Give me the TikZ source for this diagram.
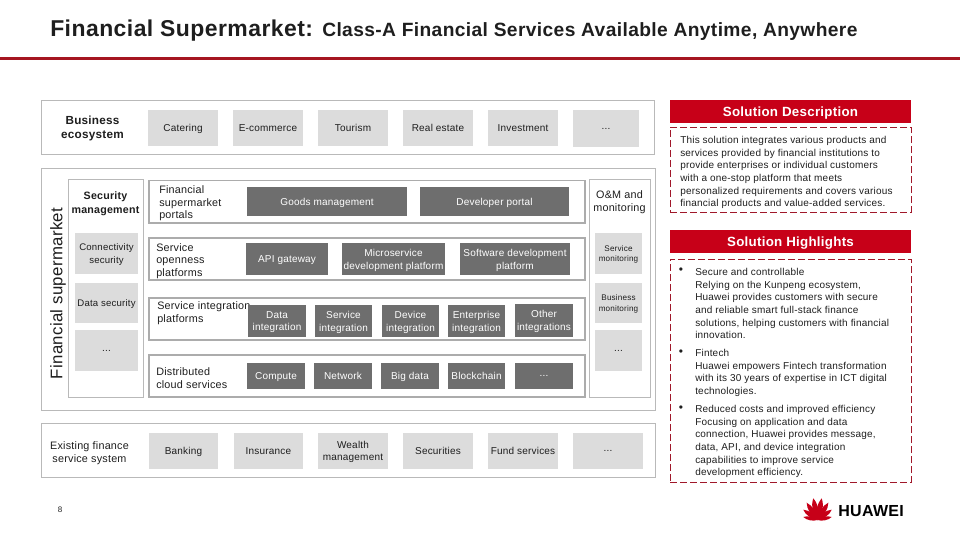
\documentclass[tikz,border=0pt]{standalone}
\usepackage{fontspec}
\setmainfont{Liberation Sans}[LetterSpace=2]
\definecolor{hwred}{RGB}{199, 0, 24}
\definecolor{ruled}{RGB}{165, 22, 32}
\definecolor{dashred}{RGB}{160, 24, 42}
\definecolor{framegray}{RGB}{185, 185, 185}
\definecolor{thickgray}{RGB}{172, 172, 172}
\definecolor{lightcell}{RGB}{220, 220, 220}
\definecolor{darkcell}{RGB}{110, 110, 110}
\definecolor{inktext}{RGB}{30, 30, 30}
\usetikzlibrary{positioning}

\begin{document}
\begin{tikzpicture}[
  x=0.75pt, y=-0.75pt,
  every node/.style={text=inktext, inner sep=0pt},
  boxsize/.style 2 args={minimum width=#1*0.75pt, minimum height=#2*0.75pt},
  frame/.style={draw=framegray, line width=0.7pt, fill=white},
  platform/.style={draw=thickgray, line width=1.4pt, fill=white},
  greycell/.style={fill=lightcell, align=center, text depth=0pt, font=\fontsize{7.5}{9.4}\selectfont},
  darkbox/.style={fill=darkcell, text=white, align=center, text depth=0pt, font=\fontsize{7.5}{9.6}\selectfont},
  rowlabel/.style={anchor=west, align=left, font=\fontsize{8.1}{9.4}\selectfont},
  headbar/.style={fill=hwred, text=white, text depth=0pt, font=\fontsize{10}{12}\bfseries\selectfont},
  dashbox/.style={draw=dashred, line width=0.6pt, dash pattern=on 5.5pt off 2pt},
  paneltext/.style={anchor=west, align=left, font=\fontsize{7.5}{9.5}\selectfont}
]
  \useasboundingbox (0,0) rectangle (960,540);

  \node[anchor=west, font=\fontsize{17.2}{22}\bfseries\selectfont] (titlemain) at (50,31) {Financial Supermarket:};
  \node[anchor=west, font=\fontsize{14.4}{18}\bfseries\selectfont] (titlesub) at (322,32) {Class-A Financial Services Available Anytime, Anywhere};
  \fill[ruled] (0,57) rectangle (960,60);

  \node[frame, boxsize={613}{54}] (ecoframe) at (347.5,127) {};
  \node[align=center, font=\fontsize{8.8}{10.5}\bfseries\selectfont] (ecolabel) at (92.5,128) {Business\\ecosystem};
  \node[greycell, boxsize={70}{36}] (catering) at (183,128) {Catering};
  \node[greycell, boxsize={70}{36}] (ecommerce) at (268,128) {E-commerce};
  \node[greycell, boxsize={70}{36}] (tourism) at (353,128) {Tourism};
  \node[greycell, boxsize={70}{36}] (realestate) at (438,128) {Real estate};
  \node[greycell, boxsize={70}{36}] (investment) at (523,128) {Investment};
  \node[greycell, boxsize={66}{37}] (ecodots) at (606,128.5) {...};

  \node[frame, boxsize={614}{242}] (marketframe) at (348,289.5) {};
  \node[rotate=90, font=\fontsize{12.6}{15}\selectfont] (marketlabel) at (58,293.5) {Financial supermarket};

  \node[frame, boxsize={74.5}{218}] (securityframe) at (106,288) {};
  \node[align=center, font=\fontsize{8}{10.2}\bfseries\selectfont] (securitylabel) at (105.5,204) {Security\\management};
  \node[greycell, boxsize={63}{41}, font=\fontsize{7.2}{9.4}\selectfont] (connectivity) at (106.5,253.5) {Connectivity\\security};
  \node[greycell, boxsize={63}{40}, font=\fontsize{7.2}{9.4}\selectfont] (datasecurity) at (106.5,303) {Data security};
  \node[greycell, boxsize={63}{41}] (securitydots) at (106.5,350.5) {...};

  \node[platform, boxsize={436}{42.5}] (portalrow) at (367,201.75) {};
  \node[platform, boxsize={436}{42}] (opennessrow) at (367,259) {};
  \node[platform, boxsize={436}{42}] (integrationrow) at (367,319) {};
  \node[platform, boxsize={436}{42}] (cloudrow) at (367,376) {};

  \node[rowlabel] (portallabel) at (159,203.5) {Financial\\supermarket\\portals};
  \node[rowlabel] (opennesslabel) at (156,261) {Service\\openness\\platforms};
  \node[rowlabel] (integrationlabel) at (157,313) {Service integration\\platforms};
  \node[rowlabel] (cloudlabel) at (156,378) {Distributed\\cloud services};

  \node[darkbox, boxsize={160}{29}] (goods) at (327,201.5) {Goods management};
  \node[darkbox, boxsize={149}{29}] (devportal) at (494.5,201.5) {Developer portal};
  \node[darkbox, boxsize={82}{32}] (apigateway) at (287,259) {API gateway};
  \node[darkbox, boxsize={103}{32}] (microservice) at (393.5,259) {Microservice\\development platform};
  \node[darkbox, boxsize={110}{32}] (softwaredev) at (515,259) {Software development\\platform};
  \node[darkbox, boxsize={58}{32}] (dataint) at (277,321) {Data\\integration};
  \node[darkbox, boxsize={57}{32}] (serviceint) at (343.5,321) {Service\\integration};
  \node[darkbox, boxsize={57}{32}] (deviceint) at (410.5,321) {Device\\integration};
  \node[darkbox, boxsize={57}{32}] (enterpriseint) at (476.5,321) {Enterprise\\integration};
  \node[darkbox, boxsize={58}{33}] (otherint) at (544,320.5) {Other\\integrations};
  \node[darkbox, boxsize={58}{26}] (compute) at (276,376) {Compute};
  \node[darkbox, boxsize={58}{26}] (network) at (343,376) {Network};
  \node[darkbox, boxsize={58}{26}] (bigdata) at (410,376) {Big data};
  \node[darkbox, boxsize={57}{26}] (blockchain) at (476.5,376) {Blockchain};
  \node[darkbox, boxsize={58}{26}] (clouddots) at (544,376) {...};

  \node[frame, boxsize={61}{218}] (omframe) at (619.5,288) {};
  \node[align=center, font=\fontsize{8.1}{9.8}\selectfont] (omlabel) at (619.5,202.5) {O\&M and\\monitoring};
  \node[greycell, boxsize={47}{41}, font=\fontsize{6.1}{7.6}\selectfont] (servicemon) at (618.5,253.5) {Service\\monitoring};
  \node[greycell, boxsize={47}{40}, font=\fontsize{6.1}{7.6}\selectfont] (businessmon) at (618.5,303) {Business\\monitoring};
  \node[greycell, boxsize={47}{41}] (omdots) at (618.5,350.5) {...};

  \node[frame, boxsize={614}{54}] (existingframe) at (348,450) {};
  \node[align=center, font=\fontsize{8.1}{9.4}\selectfont] (existinglabel) at (89.5,453) {Existing finance\\service system};
  \node[greycell, boxsize={69}{36}] (banking) at (183.5,451) {Banking};
  \node[greycell, boxsize={69}{36}] (insurance) at (268.5,451) {Insurance};
  \node[greycell, boxsize={70}{36}] (wealth) at (353,451) {Wealth\\management};
  \node[greycell, boxsize={70}{36}] (securities) at (438,451) {Securities};
  \node[greycell, boxsize={70}{36}] (fund) at (523,451) {Fund services};
  \node[greycell, boxsize={70}{36}] (existingdots) at (608,451) {...};

  \node[font=\fontsize{6}{7}\selectfont] (pagenumber) at (60,510) {8};

  \node[headbar, boxsize={241}{23}] (descbar) at (790.5,111.5) {Solution Description};
  \node[dashbox, boxsize={241}{85}] (descbox) at (790.5,169.5) {};
  \node[paneltext] (desctext) at (680,172.5) {This solution integrates various products and\\services provided by financial institutions to\\provide enterprises or individual customers\\with a one-stop platform that meets\\personalized requirements and covers various\\financial products and value-added services.};

  \node[headbar, boxsize={241}{23}] (highbar) at (790.5,241.5) {Solution Highlights};
  \node[dashbox, boxsize={241}{223}] (highbox) at (790.5,370.5) {};
  \node[paneltext] (hightext) at (695,303.5) {Secure and controllable\\Relying on the Kunpeng ecosystem,\\Huawei provides customers with secure\\and reliable smart full-stack finance\\solutions, helping customers with financial\\innovation.};
  \node[paneltext] (fintechtext) at (695,373) {Fintech\\Huawei empowers Fintech transformation\\with its 30 years of expertise in ICT digital\\technologies.};
  \node[paneltext] (coststext) at (695,441.5) {Reduced costs and improved efficiency\\Focusing on application and data\\connection, Huawei provides message,\\data, API, and device integration\\capabilities to improve service\\development efficiency.};
  \node[font=\fontsize{9}{10}\selectfont] (bulletone) at (681,271) {•};
  \node[font=\fontsize{9}{10}\selectfont] (bullettwo) at (681,353) {•};
  \node[font=\fontsize{9}{10}\selectfont] (bulletthree) at (681,409) {•};

  \foreach \petal/\reach in {-78/0.66,-54/0.8,-32/0.93,-11/1,11/1,32/0.93,54/0.8,78/0.66} {
    \begin{scope}[shift={(817.5,520)}, rotate=90+\petal, scale=\reach]
      \fill[hwred] (0,0) .. controls (6,-3.6) and (16,-3.8) .. (22,0) .. controls (16,3.8) and (6,3.6) .. (0,0) -- cycle;
    \end{scope}
  }
  \node[anchor=west, text=black, font=\fontsize{12}{14}\bfseries\selectfont] (logotext) at (838,511) {HUAWEI};
\end{tikzpicture}
\end{document}
